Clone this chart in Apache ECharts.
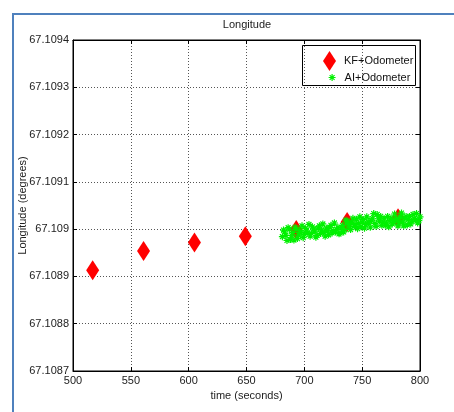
<!DOCTYPE html>
<html>
<head>
<meta charset="utf-8">
<script src="https://cdn.jsdelivr.net/npm/echarts@6/dist/echarts.min.js"></script>
<style>
  html, body { margin: 0; padding: 0; background: #fff; }
  #chart { width: 454px; height: 412px; }
</style>
</head>
<body>
<div id="chart"></div>
<script>
// Kalman filter + odometer longitude estimates
const kfTime = [517, 561, 605, 649, 693, 737, 781];
const kfLon = [67.108913, 67.108954, 67.108972, 67.108985, 67.108998, 67.109015, 67.109023];

// AI + odometer longitude estimates, one per second
const aiTime = [
  681, 682, 683, 684, 685, 686, 687, 688, 689, 690,
  691, 692, 693, 694, 695, 696, 697, 698, 699, 700,
  701, 702, 703, 704, 705, 706, 707, 708, 709, 710,
  711, 712, 713, 714, 715, 716, 717, 718, 719, 720,
  721, 722, 723, 724, 725, 726, 727, 728, 729, 730,
  731, 732, 733, 734, 735, 736, 737, 738, 739, 740,
  741, 742, 743, 744, 745, 746, 747, 748, 749, 750,
  751, 752, 753, 754, 755, 756, 757, 758, 759, 760,
  761, 762, 763, 764, 765, 766, 767, 768, 769, 770,
  771, 772, 773, 774, 775, 776, 777, 778, 779, 780,
  781, 782, 783, 784, 785, 786, 787, 788, 789, 790,
  791, 792, 793, 794, 795, 796, 797, 798, 799, 800
];
const aiLon = [
  67.108984, 67.108998, 67.108994, 67.108987, 67.108976, 67.109003, 67.109000, 67.108978, 67.108987, 67.108993,
  67.108977, 67.109004, 67.109000, 67.108980, 67.108988, 67.108997, 67.108993, 67.109007, 67.108982, 67.108989,
  67.109001, 67.108996, 67.108992, 67.109010, 67.108985, 67.108991, 67.109005, 67.109000, 67.108996, 67.108983,
  67.108987, 67.109002, 67.109007, 67.108991, 67.108998, 67.109011, 67.108993, 67.108985, 67.109002, 67.108998,
  67.108988, 67.109004, 67.109008, 67.108992, 67.108997, 67.109013, 67.108994, 67.108999, 67.109004, 67.108990,
  67.108992, 67.109003, 67.109008, 67.108994, 67.108999, 67.109019, 67.109016, 67.109010, 67.109005, 67.108999,
  67.109015, 67.109023, 67.109006, 67.109010, 67.109021, 67.109001, 67.109012, 67.109026, 67.109005, 67.109015,
  67.109020, 67.109002, 67.109010, 67.109026, 67.109015, 67.109013, 67.109004, 67.109019, 67.109022, 67.109033,
  67.109012, 67.109006, 67.109031, 67.109022, 67.109017, 67.109027, 67.109008, 67.109015, 67.109022, 67.109008,
  67.109013, 67.109027, 67.109005, 67.109018, 67.109023, 67.109011, 67.109014, 67.109032, 67.109020, 67.109022,
  67.109007, 67.109015, 67.109025, 67.109034, 67.109015, 67.109007, 67.109022, 67.109027, 67.109009, 67.109020,
  67.109027, 67.109011, 67.109017, 67.109031, 67.109022, 67.109020, 67.109033, 67.109013, 67.109018, 67.109026
];

const xTicks = { min: 500, max: 800, interval: 50 };
const yTicks = { min: 67.1087, max: 67.1094, interval: 0.0001 };

const asterisk = 'path://M5,0L5,10M0,5L10,5M1.5,1.5L8.5,8.5M8.5,1.5L1.5,8.5';
const font = 'Liberation Sans, Arial, sans-serif';
const green = '#00f000';

const chart = echarts.init(document.getElementById('chart'), null, { renderer: 'canvas' });

const gridLine = { show: true, lineStyle: { color: '#555', width: 1, type: [1, 2] } };
const innerTick = { show: true, inside: true, length: 4, lineStyle: { color: '#000' } };
const asteriskStyle = { color: 'transparent', borderColor: green, borderWidth: 1.2, opacity: 1 };

chart.setOption({
  backgroundColor: '#fff',
  animation: false,
  title: {
    text: 'Longitude',
    left: 247, top: 19, padding: 0, textAlign: 'center',
    textStyle: { fontFamily: font, fontSize: 11, fontWeight: 'normal', color: '#222' }
  },
  grid: { left: 73, right: 34, top: 40, bottom: 41, show: true, borderColor: '#000', borderWidth: 1 },
  legend: [
    {
      data: [{ name: 'KF+Odometer', icon: 'diamond' }],
      left: 318, top: 46, itemWidth: 13, itemHeight: 20,
      textStyle: { fontFamily: font, fontSize: 11, color: '#111', padding: [0, 0, 0, 3] }
    },
    {
      data: [{ name: 'AI+Odometer', icon: asterisk, itemStyle: asteriskStyle }],
      left: 323, top: 67, itemWidth: 7, itemHeight: 7,
      textStyle: { fontFamily: font, fontSize: 11, color: '#111', padding: [0, 0, 0, 4] }
    }
  ],
  xAxis: [
    {
      type: 'value', min: xTicks.min, max: xTicks.max, interval: xTicks.interval,
      name: 'time (seconds)', nameLocation: 'middle', nameGap: 18,
      nameTextStyle: { fontFamily: font, fontSize: 11, color: '#222' },
      axisLine: { show: true, lineStyle: { color: '#000' } },
      axisTick: innerTick,
      axisLabel: { fontFamily: font, fontSize: 11, color: '#222', margin: 4 },
      splitLine: gridLine
    },
    {
      type: 'value', position: 'top', min: xTicks.min, max: xTicks.max, interval: xTicks.interval,
      axisLine: { show: true, lineStyle: { color: '#000' } },
      axisTick: innerTick, axisLabel: { show: false }, splitLine: { show: false }
    }
  ],
  yAxis: [
    {
      type: 'value', min: yTicks.min, max: yTicks.max, interval: yTicks.interval,
      name: 'Longitude (degrees)', nameLocation: 'middle', nameGap: 45, nameMoveOverlap: false,
      nameTextStyle: { fontFamily: font, fontSize: 11, color: '#222' },
      axisLine: { show: true, lineStyle: { color: '#000' } },
      axisTick: innerTick,
      axisLabel: {
        fontFamily: font, fontSize: 11, color: '#222', margin: 4,
        formatter: v => String(parseFloat(v.toFixed(4)))
      },
      splitLine: gridLine
    },
    {
      type: 'value', position: 'right', min: yTicks.min, max: yTicks.max, interval: yTicks.interval,
      axisLine: { show: true, lineStyle: { color: '#000' } },
      axisTick: innerTick, axisLabel: { show: false }, splitLine: { show: false }
    }
  ],
  series: [
    {
      name: 'KF+Odometer', type: 'scatter', symbol: 'diamond', symbolSize: [13, 20],
      itemStyle: { color: '#ff0000', opacity: 1 },
      data: kfTime.map((t, i) => [t, kfLon[i]]),
      z: 2
    },
    {
      name: 'AI+Odometer', type: 'scatter', symbol: asterisk, symbolSize: 7,
      itemStyle: asteriskStyle,
      data: aiTime.map((t, i) => [t, aiLon[i]]),
      z: 3
    }
  ],
  graphic: [
    {
      type: 'rect', shape: { x: 302.5, y: 45.5, width: 113, height: 40 },
      style: { fill: 'transparent', stroke: '#000', lineWidth: 1 }, z: 100, silent: true
    },
    {
      type: 'polyline', shape: { points: [[13, 412], [13, 14], [454, 14]] },
      style: { fill: null, stroke: '#4f81bd', lineWidth: 2 }, silent: true
    }
  ]
});
</script>
</body>
</html>
